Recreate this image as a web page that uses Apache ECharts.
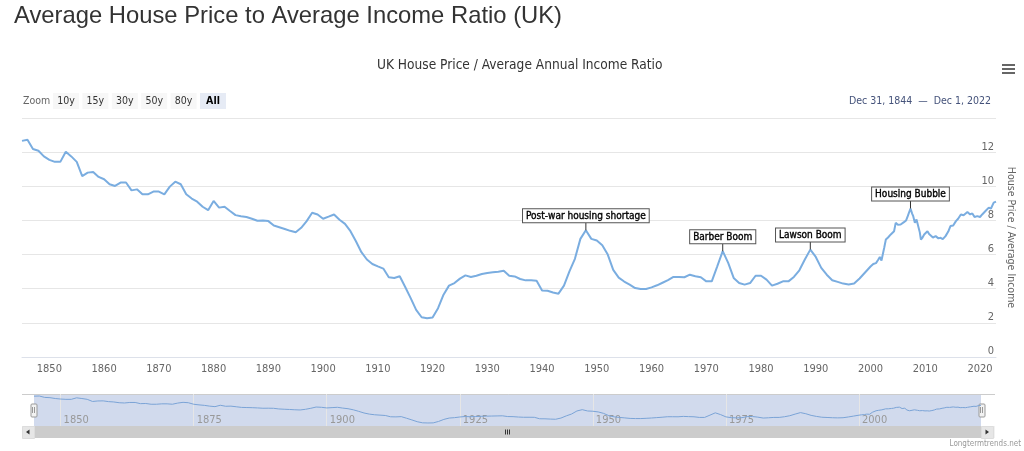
<!DOCTYPE html>
<html>
<head>
<meta charset="utf-8">
<script src="https://cdn.jsdelivr.net/npm/echarts@6/dist/echarts.min.js"></script>
<style>
  html, body { margin: 0; padding: 0; background: #fff; }
  #chart { width: 1024px; height: 451px; }
</style>
</head>
<body>
<div id="chart"></div>
<script>
// years (annual until 2000, then sub-annual) and house price / income ratio
const years = [
  1845, 1846, 1847, 1848, 1849, 1850, 1851, 1852, 1853, 1854,
  1855, 1856, 1857, 1858, 1859, 1860, 1861, 1862, 1863, 1864,
  1865, 1866, 1867, 1868, 1869, 1870, 1871, 1872, 1873, 1874,
  1875, 1876, 1877, 1878, 1879, 1880, 1881, 1882, 1883, 1884,
  1885, 1886, 1887, 1888, 1889, 1890, 1891, 1892, 1893, 1894,
  1895, 1896, 1897, 1898, 1899, 1900, 1901, 1902, 1903, 1904,
  1905, 1906, 1907, 1908, 1909, 1910, 1911, 1912, 1913, 1914,
  1915, 1916, 1917, 1918, 1919, 1920, 1921, 1922, 1923, 1924,
  1925, 1926, 1927, 1928, 1929, 1930, 1931, 1932, 1933, 1934,
  1935, 1936, 1937, 1938, 1939, 1940, 1941, 1942, 1943, 1944,
  1945, 1946, 1947, 1948, 1949, 1950, 1951, 1952, 1953, 1954,
  1955, 1956, 1957, 1958, 1959, 1960, 1961, 1962, 1963, 1964,
  1965, 1966, 1967, 1968, 1969, 1970, 1971, 1972, 1973, 1974,
  1975, 1976, 1977, 1978, 1979, 1980, 1981, 1982, 1983, 1984,
  1985, 1986, 1987, 1988, 1989, 1990, 1991, 1992, 1993, 1994,
  1995, 1996, 1997, 1998, 1999, 2000,
  2000.5, 2001.0, 2001.4, 2001.7, 2002.0, 2002.2, 2002.5, 2002.8, 2003.2, 2003.7,
  2004.0, 2004.3, 2004.6, 2005.0, 2005.5, 2006.1, 2006.5, 2006.8, 2007.0, 2007.3,
  2007.6, 2007.8, 2008.1, 2008.4, 2008.6, 2009.0, 2009.2, 2009.5, 2009.8, 2010.4,
  2010.7, 2011.0, 2011.4, 2011.9, 2012.4, 2012.8, 2013.2, 2013.7, 2014.2, 2014.6,
  2015.1, 2015.6, 2016.0, 2016.5, 2017.0, 2017.7, 2018.2, 2018.6, 2019.0, 2019.5,
  2020.0, 2020.4, 2020.7, 2021.0, 2021.3, 2021.6, 2022.0, 2022.5, 2022.92
];
const ratios = [
  12.66, 12.72, 12.18, 12.08, 11.75, 11.55, 11.43, 11.43, 12.02, 11.75,
  11.43, 10.60, 10.80, 10.84, 10.55, 10.41, 10.12, 10.02, 10.22, 10.22,
  9.76, 9.82, 9.53, 9.53, 9.69, 9.69, 9.53, 9.98, 10.27, 10.12,
  9.53, 9.28, 9.10, 8.80, 8.60, 9.14, 8.75, 8.80, 8.55, 8.31,
  8.25, 8.20, 8.10, 7.98, 8.00, 7.96, 7.70, 7.60, 7.50, 7.39,
  7.31, 7.57, 7.96, 8.45, 8.35, 8.10, 8.22, 8.35, 8.04, 7.80,
  7.37, 6.78, 6.14, 5.71, 5.45, 5.31, 5.18, 4.67, 4.63, 4.73,
  4.10, 3.45, 2.76, 2.33, 2.27, 2.31, 2.86, 3.65, 4.18, 4.33,
  4.59, 4.78, 4.69, 4.76, 4.86, 4.92, 4.96, 5.00, 5.05, 4.76,
  4.72, 4.57, 4.49, 4.49, 4.47, 3.90, 3.88, 3.78, 3.71, 4.18,
  5.02, 5.75, 6.92, 7.43, 6.92, 6.82, 6.55, 6.00, 5.10, 4.65,
  4.42, 4.24, 4.04, 3.98, 3.98, 4.08, 4.20, 4.35, 4.50, 4.69,
  4.69, 4.67, 4.82, 4.73, 4.67, 4.43, 4.43, 5.31, 6.20, 5.51,
  4.63, 4.33, 4.24, 4.33, 4.76, 4.76, 4.53, 4.18, 4.29, 4.43,
  4.43, 4.69, 5.08, 5.71, 6.29, 5.86, 5.22, 4.82, 4.50, 4.40,
  4.30, 4.25, 4.30, 4.60, 4.95, 5.30,
  5.45, 5.50, 5.70, 5.86, 5.65, 5.75, 6.40, 6.88, 7.00, 7.18,
  7.20, 7.37, 7.86, 7.75, 7.76, 7.90, 8.00, 8.25, 8.30, 8.70,
  8.40, 8.25, 7.86, 8.06, 8.00, 7.30, 6.88, 7.00, 7.18, 7.37,
  7.20, 7.18, 7.00, 7.08, 6.95, 6.98, 6.90, 7.08, 7.35, 7.67,
  7.70, 7.96, 8.10, 8.35, 8.30, 8.49, 8.35, 8.41, 8.20, 8.25,
  8.20, 8.35, 8.25, 8.55, 8.45, 8.75, 8.70, 9.04, 9.10
];
const xTicks = [1850, 1860, 1870, 1880, 1890, 1900, 1910, 1920, 1930, 1940, 1950, 1960, 1970, 1980, 1990, 2000, 2010, 2020];
const navTicks = [1850, 1875, 1900, 1925, 1950, 1975, 2000];
const zoomButtons = ['10y', '15y', '30y', '50y', '80y', 'All'];
const annotationNames = ['Post-war housing shortage', 'Barber Boom', 'Lawson Boom', 'Housing Bubble'];
const annotationYears = [1948, 1973, 1989, 2007.3];

const seriesData = years.map((y, i) => [y, ratios[i]]);
const xMin = 1845, xMax = 2022.92;
const font = "'DejaVu Sans Condensed', 'Liberation Sans Narrow', 'Liberation Sans', sans-serif";

const myChart = echarts.init(document.getElementById('chart'));

const buttonGraphics = [];
zoomButtons.forEach((b, i) => {
  const x = 53 + i * 29.4;
  const sel = b === 'All';
  buttonGraphics.push({
    type: 'rect', left: x, top: 93,
    shape: { width: 26, height: 16 },
    style: { fill: sel ? '#e6ebf5' : '#f7f7f7' }
  });
  buttonGraphics.push({
    type: 'text', x: x + 13, y: 101,
    style: { text: b, fill: sel ? '#000' : '#333', align: 'center', verticalAlign: 'middle', font: (sel ? 'bold ' : '') + '10.5px ' + font }
  });
});

myChart.setOption({
  animation: false,
  title: [
    {
      text: 'Average House Price to Average Income Ratio (UK)',
      left: 9, top: -1,
      textStyle: { fontFamily: 'Liberation Sans', fontSize: 23.8, fontWeight: 'normal', color: '#333' }
    },
    {
      text: 'UK House Price / Average Annual Income Ratio',
      left: 372, top: 53,
      textStyle: { fontFamily: font, fontSize: 13.6, fontWeight: 'normal', color: '#333' }
    },
    {
      text: 'Dec 31, 1844  \u2014  Dec 1, 2022',
      right: 28, top: 91,
      textStyle: { fontFamily: font, fontSize: 10.5, fontWeight: 'normal', color: '#44527a' }
    },
    {
      text: 'Longtermtrends.net',
      right: -2, top: 435,
      textStyle: { fontFamily: font, fontSize: 8, fontWeight: 'normal', color: '#999' }
    }
  ],
  grid: [
    { left: 22, right: 28, top: 118, bottom: 94 },
    { left: 34, right: 43, top: 394, height: 32, show: true, backgroundColor: 'rgba(102,133,194,0.3)', borderWidth: 0 }
  ],
  xAxis: [
    {
      type: 'value', gridIndex: 0, min: xMin, max: xMax,
      axisLine: { show: true, lineStyle: { color: '#dde1ea' } },
      axisTick: { show: false, customValues: xTicks },
      splitLine: { show: false },
      axisLabel: { customValues: xTicks, formatter: v => String(v), color: '#666', fontFamily: font, fontSize: 11, margin: 7 }
    },
    {
      type: 'value', gridIndex: 1, min: xMin, max: xMax,
      axisLine: { show: false },
      axisTick: { show: false, customValues: navTicks },
      splitLine: { show: true, lineStyle: { color: '#e6e6e6' } },
      axisLabel: { customValues: navTicks, formatter: v => String(v), inside: true, align: 'left', padding: [0, 0, 0, 3], margin: 0, color: '#999', fontFamily: font, fontSize: 11 }
    }
  ],
  yAxis: [
    {
      type: 'value', gridIndex: 0, position: 'right', min: 0, max: 14, interval: 2,
      name: 'House Price / Average Income',
      nameLocation: 'middle', nameRotate: -90, nameGap: 9,
      nameTextStyle: { color: '#666', fontFamily: font, fontSize: 10.5 },
      axisLine: { show: false }, axisTick: { show: false },
      splitLine: { lineStyle: { color: '#e6e6e6' } },
      axisLabel: {
        inside: true, margin: 2, verticalAlign: 'bottom',
        color: '#666', fontFamily: font, fontSize: 11,
        formatter: v => (v === 14 ? '' : String(v))
      }
    },
    {
      type: 'value', gridIndex: 1, min: 1.1, max: 13.5,
      axisLine: { show: false }, axisTick: { show: false },
      axisLabel: { show: false }, splitLine: { show: false }
    }
  ],
  series: [
    {
      type: 'line', xAxisIndex: 0, yAxisIndex: 0,
      data: seriesData,
      symbol: 'none',
      lineStyle: { color: '#7aade0', width: 2 },
      markPoint: {
        symbol: 'rect',
        symbolSize: [1, 8],
        symbolOffset: [0, -4],
        itemStyle: { color: '#333' },
        label: {
          show: true, position: 'top', distance: 0,
          formatter: p => p.name,
          color: '#000', fontFamily: font, fontSize: 10, fontWeight: 'normal',
          textBorderColor: '#000', textBorderWidth: 0.35,
          backgroundColor: '#fff', borderColor: '#555', borderWidth: 1,
          padding: [2, 3, 1, 3]
        },
        data: annotationNames.map((n, i) => {
          const idx = years.indexOf(annotationYears[i]);
          return { name: n, coord: [years[idx], ratios[idx]] };
        })
      }
    },
    {
      type: 'line', xAxisIndex: 1, yAxisIndex: 1,
      data: seriesData,
      symbol: 'none', silent: true,
      lineStyle: { color: '#7aa3d6', width: 1 }
    }
  ],
  graphic: [
    // export menu icon
    { type: 'rect', left: 1002, top: 64, shape: { width: 13, height: 2 }, style: { fill: '#666' } },
    { type: 'rect', left: 1002, top: 68, shape: { width: 13, height: 2 }, style: { fill: '#666' } },
    { type: 'rect', left: 1002, top: 72, shape: { width: 13, height: 2 }, style: { fill: '#666' } },
    // range selector
    { type: 'text', x: 23, y: 101, style: { text: 'Zoom', fill: '#666', verticalAlign: 'middle', font: '10.5px ' + font } },
    ...buttonGraphics,
    // navigator outline + handles
    { type: 'line', shape: { x1: 22, y1: 394.5, x2: 995, y2: 394.5 }, style: { stroke: '#ccc', lineWidth: 1 } },
    { type: 'rect', left: 30.5, top: 403.5, shape: { width: 6, height: 13, r: 1 }, style: { fill: '#f2f2f2', stroke: '#999' } },
    { type: 'line', shape: { x1: 32.5, y1: 407, x2: 32.5, y2: 413 }, style: { stroke: '#999' } },
    { type: 'line', shape: { x1: 34.5, y1: 407, x2: 34.5, y2: 413 }, style: { stroke: '#999' } },
    { type: 'rect', left: 978.5, top: 403.5, shape: { width: 6, height: 13, r: 1 }, style: { fill: '#f2f2f2', stroke: '#999' } },
    { type: 'line', shape: { x1: 980.5, y1: 407, x2: 980.5, y2: 413 }, style: { stroke: '#999' } },
    { type: 'line', shape: { x1: 982.5, y1: 407, x2: 982.5, y2: 413 }, style: { stroke: '#999' } },
    // scrollbar
    { type: 'rect', left: 22, top: 426, shape: { width: 973, height: 12 }, style: { fill: '#f2f2f2' } },
    { type: 'rect', left: 34, top: 426, shape: { width: 947, height: 12 }, style: { fill: '#cccccc' } },
    { type: 'rect', left: 22, top: 426, shape: { width: 12, height: 12 }, style: { fill: '#e6e6e6', stroke: '#ddd' } },
    { type: 'rect', left: 981, top: 426, shape: { width: 12, height: 12 }, style: { fill: '#e6e6e6', stroke: '#ddd' } },
    { type: 'polygon', shape: { points: [[29.5, 429.5], [29.5, 434.5], [26, 432]] }, style: { fill: '#333' } },
    { type: 'polygon', shape: { points: [[985.5, 429.5], [985.5, 434.5], [989, 432]] }, style: { fill: '#333' } },
    { type: 'line', shape: { x1: 505.5, y1: 429.5, x2: 505.5, y2: 434.5 }, style: { stroke: '#333' } },
    { type: 'line', shape: { x1: 507.5, y1: 429.5, x2: 507.5, y2: 434.5 }, style: { stroke: '#333' } },
    { type: 'line', shape: { x1: 509.5, y1: 429.5, x2: 509.5, y2: 434.5 }, style: { stroke: '#333' } }
  ]
});
</script>
</body>
</html>
